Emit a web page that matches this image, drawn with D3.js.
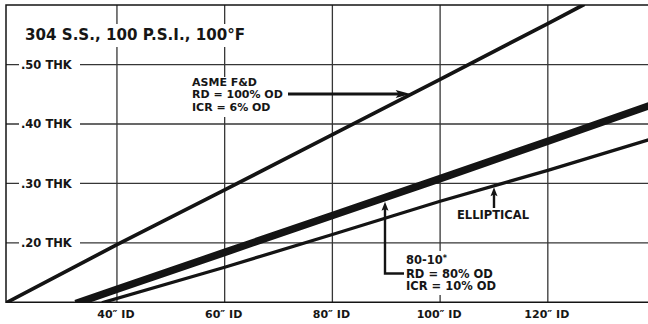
<!DOCTYPE html>
<html>
<head>
<meta charset="utf-8">
<script src="https://cdn.jsdelivr.net/npm/d3@7"></script>
<style>
  html, body { margin: 0; padding: 0; background: #fff; }
  svg { display: block; }
  text { font-family: "DejaVu Sans", sans-serif; font-weight: bold; fill: #161616; }
</style>
</head>
<body>
<svg id="chart" width="648" height="324"></svg>
<script>
// Head wall thickness vs. inside diameter, 304 S.S. at 100 psi / 100°F
const titleText = "304 S.S., 100 P.S.I., 100°F";

const xTickValues = [40, 60, 80, 100, 120];
const xTickLabels = ["40\u2033 ID", "60\u2033 ID", "80\u2033 ID", "100\u2033 ID", "120\u2033 ID"];
const yTickValues = [0.20, 0.30, 0.40, 0.50];
const yTickLabels = [".20 THK", ".30 THK", ".40 THK", ".50 THK"];

// ASME flanged & dished head (RD = 100% OD, ICR = 6% OD)
const asmeID  = [19.6, 40, 60, 80, 100, 120, 126.5];
const asmeTHK = [0.100, 0.197, 0.289, 0.382, 0.475, 0.569, 0.600];

// 80-10 head (RD = 80% OD, ICR = 10% OD)
const head8010ID  = [33, 40, 60, 80, 100, 120, 138.6];
const head8010THK = [0.100, 0.122, 0.184, 0.246, 0.308, 0.371, 0.430];

// Elliptical head
const ellipID  = [37.5, 60, 80, 100, 120, 138.6];
const ellipTHK = [0.100, 0.159, 0.214, 0.270, 0.322, 0.373];

(function draw() {
  const svg = d3.select("#chart");
  const pL = 6, pR = 648, pT = 5.1, pB = 302.3;

  const x = d3.scaleLinear().domain([19.4, 138.6]).range([pL, pR]);
  const y = d3.scaleLinear().domain([0.10, 0.60]).range([pB, pT]);

  const ink = "#141414";
  const gridInk = "#363636";

  // clip for the curves
  svg.append("defs").append("clipPath").attr("id", "plot")
    .append("rect").attr("x", pL).attr("y", pT)
    .attr("width", pR - pL).attr("height", pB - pT);

  // grid
  const grid = svg.append("g");
  grid.selectAll("line.v").data(xTickValues).join("line")
    .attr("x1", d => x(d)).attr("x2", d => x(d))
    .attr("y1", pT).attr("y2", pB)
    .attr("stroke", gridInk).attr("stroke-width", 1.3);
  grid.selectAll("line.h").data(yTickValues).join("line")
    .attr("x1", pL).attr("x2", pR)
    .attr("y1", d => y(d)).attr("y2", d => y(d))
    .attr("stroke", gridInk).attr("stroke-width", 1.3);

  // frame: top, left, bottom
  svg.append("path")
    .attr("d", `M${pR},${pT}H${pL}V${pB}H${pR}`)
    .attr("fill", "none").attr("stroke", ink).attr("stroke-width", 1.5);

  // white label plates over the grid
  const plates = svg.append("g").attr("fill", "#fff");
  plates.append("rect").attr("x", 20).attr("y", 24).attr("width", 236).attr("height", 23);
  plates.append("rect").attr("x", 188).attr("y", 77).attr("width", 100).attr("height", 40);
  plates.append("rect").attr("x", 402).attr("y", 251).attr("width", 98).attr("height", 44);
  plates.selectAll("rect.yl").data(yTickValues).join("rect")
    .attr("x", 19).attr("y", d => y(d) - 6).attr("width", 61).attr("height", 12);

  // curves
  const line = d3.line().x(d => x(d[0])).y(d => y(d[1]));
  const curves = svg.append("g").attr("clip-path", "url(#plot)")
    .attr("fill", "none").attr("stroke", ink).attr("stroke-linecap", "square");
  curves.append("path").datum(d3.zip(asmeID, asmeTHK)).attr("d", line).attr("stroke-width", 3.7);
  curves.append("path").datum(d3.zip(head8010ID, head8010THK)).attr("d", line).attr("stroke-width", 7.5);
  curves.append("path").datum(d3.zip(ellipID, ellipTHK)).attr("d", line).attr("stroke-width", 3.3);

  // a curve's thickness at an ID / ID at a thickness
  const thkAt = (ids, thks, id) => {
    const i = Math.max(1, Math.min(ids.length - 1, d3.bisectLeft(ids, id)));
    const t = (id - ids[i - 1]) / (ids[i] - ids[i - 1]);
    return thks[i - 1] + t * (thks[i] - thks[i - 1]);
  };
  const idAt = (ids, thks, thk) => {
    const i = Math.max(1, Math.min(thks.length - 1, d3.bisectLeft(thks, thk)));
    const t = (thk - thks[i - 1]) / (thks[i] - thks[i - 1]);
    return ids[i - 1] + t * (ids[i] - ids[i - 1]);
  };

  const ann = svg.append("g");
  const arrowHead = (tx, ty, dir, len, half) => {
    const pts = dir === "right"
      ? [[tx, ty], [tx - len, ty - half], [tx - len * 0.8, ty], [tx - len, ty + half]]
      : [[tx, ty], [tx - half, ty + len], [tx, ty + len * 0.8], [tx + half, ty + len]];
    ann.append("polygon").attr("points", pts.map(p => p.join(",")).join(" ")).attr("fill", ink);
  };

  // ASME arrow
  {
    const ay = 94;
    const tipX = x(idAt(asmeID, asmeTHK, y.invert(ay))) - 1;
    ann.append("line").attr("x1", 288).attr("x2", tipX - 8).attr("y1", ay).attr("y2", ay)
      .attr("stroke", ink).attr("stroke-width", 3);
    arrowHead(tipX, ay, "right", 15, 4);
  }
  // Elliptical arrow
  {
    const ax = 494;
    const tipY = y(thkAt(ellipID, ellipTHK, x.invert(ax))) + 1.5;
    ann.append("line").attr("x1", ax).attr("x2", ax).attr("y1", tipY + 5).attr("y2", 208)
      .attr("stroke", ink).attr("stroke-width", 2.4);
    arrowHead(ax, tipY, "up", 9, 3.5);
  }
  // 80-10 arrow
  {
    const ax = 385;
    const tipY = y(thkAt(head8010ID, head8010THK, x.invert(ax))) + 4.2;
    ann.append("path").attr("d", `M404,273.5H${ax}V${tipY + 5}`)
      .attr("fill", "none").attr("stroke", ink).attr("stroke-width", 2.4);
    arrowHead(ax, tipY, "up", 9, 3.5);
  }

  // title
  svg.append("text").attr("x", 25).attr("y", 39.5).attr("font-size", 15.1).text(titleText);

  // axis labels
  svg.append("g").selectAll("text").data(yTickValues).join("text")
    .attr("x", 21).attr("y", d => y(d) + 4.3).attr("font-size", 11.5)
    .text((d, i) => yTickLabels[i]);
  svg.append("g").selectAll("text").data(xTickValues).join("text")
    .attr("x", d => x(d) - 1).attr("y", 318).attr("text-anchor", "middle").attr("font-size", 11)
    .text((d, i) => xTickLabels[i]);

  // curve legends
  const asmeLbl = svg.append("g").attr("font-size", 11);
  [["ASME F&D", 85.5], ["RD = 100% OD", 98], ["ICR = 6% OD", 111]].forEach(([t, by]) =>
    asmeLbl.append("text").attr("x", 192).attr("y", by).text(t));

  svg.append("text").attr("x", 457).attr("y", 219).attr("font-size", 11.5).text("ELLIPTICAL");

  const lbl8010 = svg.append("g").attr("font-size", 11.5);
  const first = lbl8010.append("text").attr("x", 406).attr("y", 263.5).text("80-10");
  first.append("tspan").attr("font-size", 8).attr("dy", -3).text("*");
  [["RD = 80% OD", 277.5], ["ICR = 10% OD", 290]].forEach(([t, by]) =>
    lbl8010.append("text").attr("x", 406).attr("y", by).text(t));
})();
</script>
</body>
</html>
